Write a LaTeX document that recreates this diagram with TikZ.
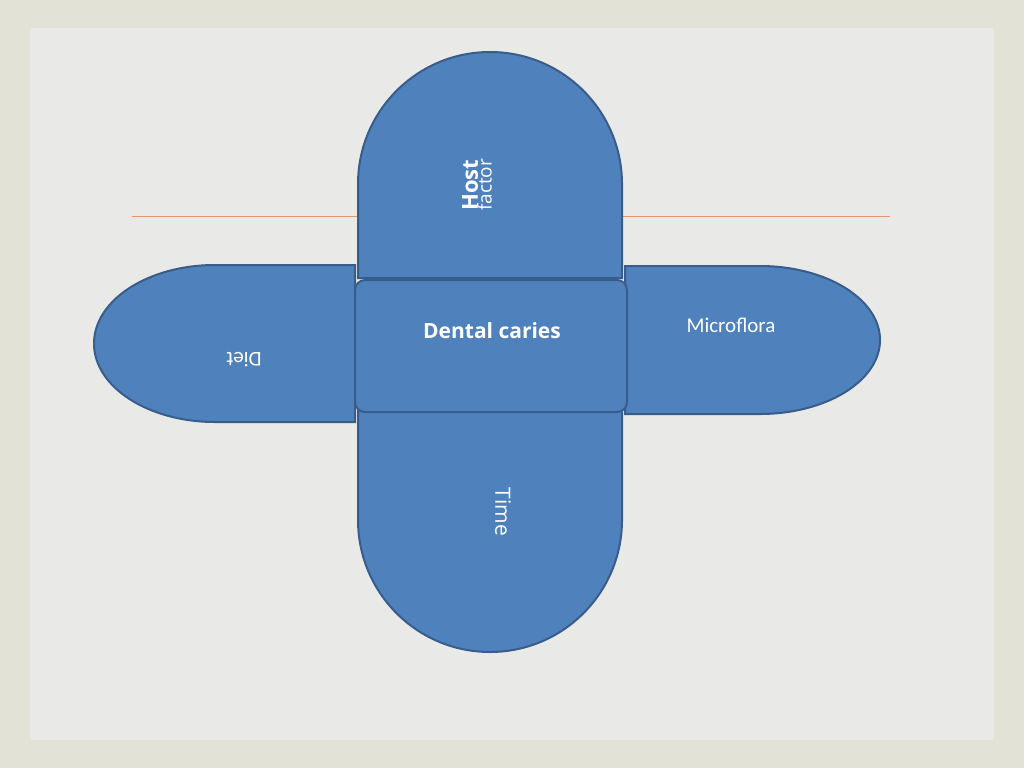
\documentclass[tikz,border=0pt]{standalone}
\usepackage{fontspec}
\setmainfont{Open Sans}
\newfontfamily\calib{Carlito}
\definecolor{bfill}{RGB}{79,129,189}
\definecolor{bline}{RGB}{56,93,138}
\definecolor{outerbg}{RGB}{226,226,214}
\definecolor{innerbg}{RGB}{233,233,232}
\definecolor{orln}{RGB}{230,150,100}
\begin{document}
\begin{tikzpicture}[x=1pt,y=-1pt,
  blob/.style={fill=bfill,draw=bline,line width=2pt},
  lbl/.style={text=white,align=center,inner sep=0pt}]
\useasboundingbox (0,0) rectangle (1024,768);
\fill[outerbg] (0,0) rectangle (1024,768);
\fill[innerbg] (30,28) rectangle (994,740);
\draw[orln,line width=0.8pt] (132,216) -- (890,216);
% top
\draw[blob] (358,278) -- (358,184) arc[start angle=180,end angle=0,x radius=132,y radius=-132] -- (622,278) -- cycle;
% bottom
\draw[blob] (358,410) -- (358,520) arc[start angle=180,end angle=360,x radius=132,y radius=-132] -- (622,410) -- cycle;
% left
\draw[blob] (355,265) -- (215,265) arc[start angle=90,end angle=270,x radius=121,y radius=-78.5] -- (355,422) -- cycle;
% right
\draw[blob] (625,266) -- (760,266) arc[start angle=90,end angle=-90,x radius=120,y radius=-74] -- (625,414) -- cycle;
% center
\draw[blob,rounded corners=10pt] (355,280) rectangle (627,412);
\node[lbl,rotate=90] (host) at (477,185) {{\fontsize{22}{24}\selectfont\bfseries Host}\\[-2pt]{\fontsize{19}{22}\selectfont factor}};
\node[lbl,font=\fontsize{21}{24}\selectfont\bfseries] (dc) at (492,331) {Dental caries};
\node[lbl,font=\calib\fontsize{21}{24}\selectfont] (mf) at (731,325) {Microflora};
\node[lbl,rotate=180,font=\calib\fontsize{21}{24}\selectfont] (diet) at (244,360) {Diet};
\node[lbl,rotate=-90,font=\fontsize{21}{24}\selectfont] (time) at (503,512) {Time};
\end{tikzpicture}
\end{document}
